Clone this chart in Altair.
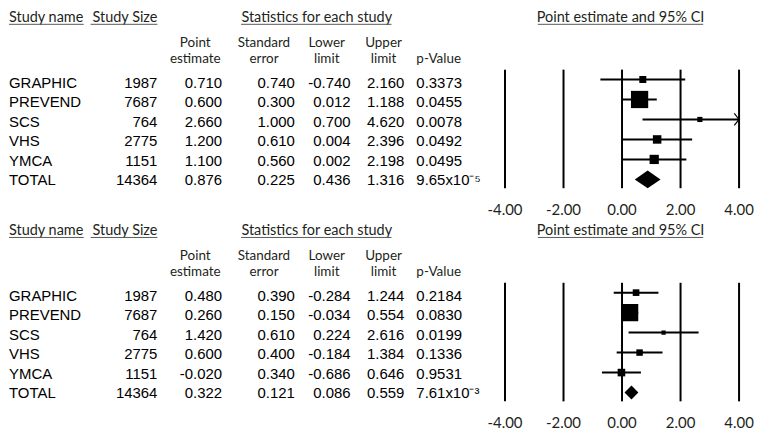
import altair as alt
import pandas as pd

# ---------------- data ----------------
names = ["GRAPHIC", "PREVEND", "SCS", "VHS", "YMCA", "TOTAL"]
sizes = [1987, 7687, 764, 2775, 1151, 14364]

est_a = [0.710, 0.600, 2.660, 1.200, 1.100, 0.876]
se_a = [0.740, 0.300, 1.000, 0.610, 0.560, 0.225]
lower_a = [-0.740, 0.012, 0.700, 0.004, 0.002, 0.436]
upper_a = [2.160, 1.188, 4.620, 2.396, 2.198, 1.316]
p_a = ["0.3373", "0.0455", "0.0078", "0.0492", "0.0495", "9.65x10\u207b\u2075"]

est_b = [0.480, 0.260, 1.420, 0.600, -0.020, 0.322]
se_b = [0.390, 0.150, 0.610, 0.400, 0.340, 0.121]
lower_b = [-0.284, -0.034, 0.224, -0.184, -0.686, 0.086]
upper_b = [1.244, 0.554, 2.616, 1.384, 0.646, 0.559]
p_b = ["0.2184", "0.0830", "0.0199", "0.1336", "0.9531", "7.61x10\u207b\u00b3"]

ticks = [-4, -2, 0, 2, 4]

head_name = "Study name"
head_size = "Study Size"
head_stats = "Statistics for each study"
head_ci = "Point estimate and 95% CI"
sub_line1 = ["Point", "Standard", "Lower", "Upper"]
sub_line2 = ["estimate", "error", "limit", "limit"]
head_p = "p-Value"

# ---------------- layout / style ----------------
S = 0.96          # vertical compression to fit the page
OFF = 1.5         # reference top offset
W = 746
H_A = 212
H_B = 207
HFONT = "Lato"
HSIZE = 14.5
SUBSIZE = 13.5
SUB_GAP = 16.4    # px between the two sub-header lines
TFONT = "Liberation Sans"
TSIZE = 15
INK = "#000000"
HINK = "#231f20"

X_RANGE = [498, 733]
sub_x = [187, 256, 319, 376]
col_specs = [  # field, x, align
    ("name_s", 0, "left"),
    ("size_s", 149, "right"),
    ("est_s", 214, "right"),
    ("se_s", 287, "right"),
    ("lower_s", 343, "right"),
    ("upper_s", 397, "right"),
    ("p", 409, "left"),
]


def py(v):
    return (v - OFF) * S


def one(t):
    return pd.DataFrame({"t": [t]})


def make_panel(est, se, lower, upper, p, H, dhalf):
    df = pd.DataFrame({
        "name": names, "size": sizes, "est": est, "se": se,
        "lower": lower, "upper": upper, "p": p,
    })
    df["row"] = range(len(df))
    df["kind"] = ["study"] * (len(df) - 1) + ["total"]
    df["name_s"] = df["name"]
    df["size_s"] = [str(v) for v in sizes]
    df["est_s"] = [f"{v:.3f}" for v in est]
    df["se_s"] = [f"{v:.3f}" for v in se]
    df["lower_s"] = [f"{v:.3f}" for v in lower]
    df["upper_s"] = [f"{v:.3f}" for v in upper]

    # y scales (row units -> pixels)
    t_step, t_first = 20.34, 76.7
    a_t = -(t_first - OFF) / t_step
    ty = alt.Scale(domain=[a_t, a_t + H / (t_step * S)], reverse=True, nice=False, zero=False)
    f_step, f_first = 20.9, 73.3
    a_f = -(f_first - OFF) / f_step
    fy = alt.Scale(domain=[a_f, a_f + H / (f_step * S)], reverse=True, nice=False, zero=False)
    xs = alt.Scale(domain=[-4, 4], range=X_RANGE, clamp=True, nice=False, zero=False)

    layers = []

    def htext(t, x, ypx, align, size=HSIZE):
        return alt.Chart(one(t)).mark_text(
            align=align, baseline="alphabetic", font=HFONT, fontSize=size, color=HINK
        ).encode(x=alt.value(x), y=alt.value(ypx), text="t:N")

    y_head = py(12.9)
    y_sub1 = py(39.0)
    y_sub2 = y_sub1 + SUB_GAP
    layers.append(htext(head_name, 0, y_head, "left"))
    layers.append(htext(head_size, 149, y_head, "right"))
    layers.append(htext(head_stats, 309, y_head, "center"))
    layers.append(htext(head_ci, 614, y_head, "center"))
    for t1, t2, x in zip(sub_line1, sub_line2, sub_x):
        layers.append(htext(t1, x, y_sub1, "center", size=SUBSIZE))
        layers.append(htext(t2, x, y_sub2, "center", size=SUBSIZE))
    layers.append(htext(head_p, 409, y_sub2, "left", size=SUBSIZE))

    # underlines
    for x1, x2 in [(0, 75), (82, 149), (233, 384), (531, 697)]:
        layers.append(
            alt.Chart(one(0)).mark_rule(color="#58595b", strokeWidth=1).encode(
                x=alt.value(x1), x2=alt.value(x2), y=alt.value(py(15.6))
            )
        )

    # table columns
    base = alt.Chart(df)
    for field, x, align in col_specs:
        layers.append(
            base.mark_text(align=align, baseline="middle", font=TFONT, fontSize=TSIZE, color=INK)
            .encode(x=alt.value(x), y=alt.Y("row:Q", scale=ty, axis=None), text=f"{field}:N")
        )

    # vertical reference lines and tick labels
    tdf = pd.DataFrame({"t": ticks, "lab": [f"{v:.2f}" for v in ticks]})
    layers.append(
        alt.Chart(tdf).mark_rule(color=INK, strokeWidth=2).encode(
            x=alt.X("t:Q", scale=xs, axis=None), y=alt.value(py(63)), y2=alt.value(py(187))
        )
    )
    layers.append(
        alt.Chart(tdf).mark_text(baseline="middle", font=HFONT, fontSize=15, color=HINK).encode(
            x=alt.X("t:Q", scale=xs, axis=None), y=alt.value(py(209.5)), text="lab:N"
        )
    )

    studies = base.transform_filter(alt.datum.kind == "study")
    # CI lines
    layers.append(
        studies.mark_rule(color=INK, strokeWidth=2).encode(
            x=alt.X("lower:Q", scale=xs, axis=None), x2="upper:Q",
            y=alt.Y("row:Q", scale=fy, axis=None),
        )
    )
    # arrow for clipped CI
    layers.append(
        studies.transform_filter(alt.datum.upper > 4)
        .mark_point(shape="M-0.8,-1L0,0L-0.8,1", filled=False, color=INK, strokeWidth=1.2,
                    size=144, opacity=1)
        .encode(x=alt.X("upper:Q", scale=xs, axis=None), y=alt.Y("row:Q", scale=fy, axis=None))
    )
    # weight squares (inverse-variance weights)
    layers.append(
        studies.transform_calculate(w="1 / (datum.se * datum.se)")
        .mark_square(color=INK, opacity=1)
        .encode(
            x=alt.X("est:Q", scale=xs, axis=None),
            y=alt.Y("row:Q", scale=fy, axis=None),
            size=alt.Size("w:Q", scale=alt.Scale(range=[0, 300], zero=True), legend=None),
        )
    )
    # summary diamond
    layers.append(
        base.transform_filter(alt.datum.kind == "total")
        .transform_fold(["lower", "est", "upper"], as_=["pos", "xv"])
        .transform_calculate(hh=f"datum.pos == 'est' ? {dhalf} : 0")
        .transform_calculate(ya="datum.row - datum.hh", yb="datum.row + datum.hh")
        .mark_area(color=INK, opacity=1, orient="vertical")
        .encode(
            x=alt.X("xv:Q", scale=xs, axis=None),
            y=alt.Y("ya:Q", scale=fy, axis=None),
            y2="yb:Q",
        )
    )

    return alt.layer(*layers).properties(width=W, height=H).resolve_scale(y="independent")


panel_a = make_panel(est_a, se_a, lower_a, upper_a, p_a, H_A, 0.44)
panel_b = make_panel(est_b, se_b, lower_b, upper_b, p_b, H_B, 0.35)

chart = (
    alt.vconcat(panel_a, panel_b, spacing=0)
    .resolve_scale(size="independent")
    .properties(padding=0, background="white")
    .configure_view(stroke=None)
)

chart.save("out.html", embed_options={"renderer": "svg", "actions": False})
